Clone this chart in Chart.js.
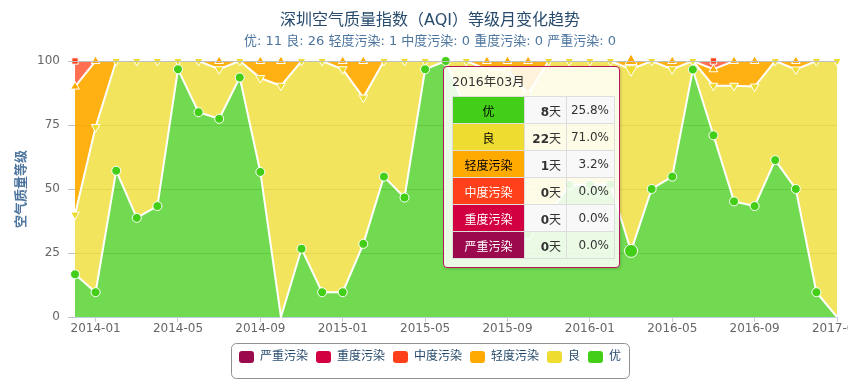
<!DOCTYPE html>
<html>
<head>
<meta charset="utf-8">
<script src="https://cdn.jsdelivr.net/npm/chart.js@4/dist/chart.umd.min.js"></script>
<style>
html,body{margin:0;padding:0;background:#fff;}
#wrap{position:relative;width:848px;height:386px;overflow:hidden;}
#c{display:block;}
#tip{position:absolute;box-sizing:border-box;width:177px;padding:8px;background:rgba(255,255,255,0.85);
  border:1px solid #B8175E;border-radius:4px;box-shadow:1px 1px 3px rgba(0,0,0,0.18);
  font-family:'DejaVu Sans','Noto Sans CJK SC',sans-serif;z-index:5;}
#tip .hd{font-size:12.5px;line-height:13px;color:#333;margin-bottom:8px;white-space:nowrap;}
#tip table{border-collapse:collapse;width:159px;table-layout:fixed;}
#tip td{border:1px solid #ddd;height:26px;padding:0;font-size:12px;color:#333;white-space:nowrap;}
#tip td.lab{text-align:center;}
#tip td.d{text-align:right;padding-right:5px;}
#tip td.p{text-align:right;padding-right:5px;}
#tip tr.odd td.d,#tip tr.odd td.p{background:#f8f8f8;}
</style>
</head>
<body>
<div id="wrap">
<canvas id="c" width="860" height="386"></canvas>
<div id="tip"></div>
</div>
<script>
// ---- data (days per month for each AQI level) ----
const months = ['2013-12','2014-01','2014-02','2014-03','2014-04','2014-05','2014-06','2014-07','2014-08','2014-09','2014-10','2014-11','2014-12',
  '2015-01','2015-02','2015-03','2015-04','2015-05','2015-06','2015-07','2015-08','2015-09','2015-10','2015-11','2015-12',
  '2016-01','2016-02','2016-03','2016-04','2016-05','2016-06','2016-07','2016-08','2016-09','2016-10','2016-11','2016-12','2017-01'];
const excellent = [5,3,16,12,13,30,24,24,29,17,0,8,3,3,8,17,14,30,30,25,19,14,10,12,16,16,15,8,15,17,29,22,14,13,19,15,3,0];
const good      = [7,20,12,19,17,1,6,6,2,11,28,22,28,27,16,14,16,1,0,6,11,15,17,18,15,15,14,22,15,13,1,6,14,14,12,14,28,31];
const light     = [15,8,0,0,0,0,0,1,0,2,3,0,0,1,4,0,0,0,0,0,1,1,4,0,0,0,0,1,0,1,0,2,3,3,0,1,0,0];
const moderate  = [3,0,0,0,0,0,0,0,0,0,0,0,0,0,0,0,0,0,0,0,0,0,0,0,0,0,0,0,0,0,0,1,0,0,0,0,0,0];
const heavy     = [0,0,0,0,0,0,0,0,0,0,0,0,0,0,0,0,0,0,0,0,0,0,0,0,0,0,0,0,0,0,0,0,0,0,0,0,0,0];
const severe    = [0,0,0,0,0,0,0,0,0,0,0,0,0,0,0,0,0,0,0,0,0,0,0,0,0,0,0,0,0,0,0,0,0,0,0,0,0,0];
const seriesNames = ['优','良','轻度污染','中度污染','重度污染','严重污染'];
const tickMonths = ['01','05','09'];
const titleText = '深圳空气质量指数（AQI）等级月变化趋势';
const subtitleText = '优: 11 良: 26 轻度污染: 1 中度污染: 0 重度污染: 0 严重污染: 0';
const HOVER_INDEX = 27;

// ---- styles ----
const seriesDays = [excellent, good, light, moderate, heavy, severe];
const legendColors = ['#43CE17','#EFDC31','#FFAA00','#FF401A','#D20040','#9C0A4E'];
const fillColors = ['rgba(67,206,23,0.75)','rgba(239,220,49,0.78)','rgba(255,170,0,0.92)','rgba(255,64,26,0.75)','rgba(210,0,64,0.75)','rgba(156,10,78,0.75)'];
const labelTextColors = ['#000','#000','#000','#fff','#fff','#fff'];
const pointStyles = ['circle','triangle','triangle','rect','rectRot','circle'];
const pointRot = [0,180,0,0,0,0];
const pointSizes = [4.5,5,5,4.5,4.5,4];
const FONT = "'DejaVu Sans','Noto Sans CJK SC',sans-serif";
Chart.defaults.font.family = FONT;

const totals = months.map((m,i)=>seriesDays.reduce((a,s)=>a+s[i],0));
const isTick = i => tickMonths.includes(months[i].slice(5));

const datasets = seriesNames.map((name,s)=>({
  label:name,
  data: seriesDays[s].map((d,i)=> d/totals[i]*100),
  fill: s===0 ? 'origin' : '-1',
  backgroundColor: fillColors[s],
  borderColor:'#fff',
  borderWidth:2,
  tension:0,
  clip:false,
  pointStyle: pointStyles[s],
  pointRotation: pointRot[s],
  pointBackgroundColor: legendColors[s],
  pointBorderColor:'#fff',
  pointBorderWidth:1,
  pointRadius: ctx => seriesDays[s][ctx.dataIndex] > 0 ? (ctx.dataIndex===HOVER_INDEX ? pointSizes[s]+2 : pointSizes[s]) : 0,
  pointHoverRadius: ctx => seriesDays[s][ctx.dataIndex] > 0 ? pointSizes[s]+2 : 0,
  segment:{ borderColor: ctx => (seriesDays[s][ctx.p0DataIndex]===0 && seriesDays[s][ctx.p1DataIndex]===0) ? 'rgba(0,0,0,0)' : '#fff' }
}));

const extras = {
  id:'extras',
  afterDatasetsDraw(chart){
    const {ctx, chartArea} = chart;
    const y = Math.round(chart.scales.y.getPixelForValue(100)) + 0.5;
    ctx.save();
    ctx.strokeStyle = '#C0C0C0'; ctx.lineWidth = 1;
    ctx.beginPath(); ctx.moveTo(chartArea.left - 7, y); ctx.lineTo(chartArea.right, y); ctx.stroke();
    ctx.restore();
  },
  afterDraw(chart){
    const hb = chart.legend.legendHitBoxes;
    if (!hb || !hb.length) return;
    const left = Math.min(...hb.map(h=>h.left)) - 8;
    const right = Math.max(...hb.map(h=>h.left+h.width)) + 8;
    const top = hb[0].top - 8, bottom = hb[0].top + 27;
    const ctx = chart.ctx;
    ctx.save();
    ctx.strokeStyle = '#909090'; ctx.lineWidth = 1;
    ctx.beginPath();
    ctx.roundRect(Math.round(left)+0.5, Math.round(top)+0.5, Math.round(right-left), Math.round(bottom-top), 5);
    ctx.stroke();
    ctx.restore();
  }
};

const chart = new Chart(document.getElementById('c'), {
  type:'line',
  data:{ labels: months, datasets },
  options:{
    responsive:false, animation:false, devicePixelRatio:1,
    layout:{ padding:{ left:0, right:0, top:0, bottom:13 } },
    interaction:{ mode:'index', intersect:false },
    plugins:{
      title:{ display:true, text:titleText, color:'#274b6d', font:{size:16, weight:'normal'}, padding:{top:11.4, bottom:0} },
      subtitle:{ display:true, text:subtitleText, color:'#4d759e', font:{size:13, weight:'normal'}, padding:{top:3.1, bottom:11.7} },
      legend:{ position:'bottom', reverse:true,
        labels:{ boxWidth:15, boxHeight:12, padding:8, color:'#274b6d', font:{size:12},
          useBorderRadius:true, borderRadius:3,
          generateLabels: (ch) => ch.data.datasets.map((ds,i)=>({
            text: ds.label, fillStyle: legendColors[i], strokeStyle: legendColors[i], lineWidth:0,
            hidden:false, datasetIndex:i, fontColor:'#274b6d', borderRadius:3
          }))
        }
      },
      tooltip:{ enabled:false }
    },
    scales:{
      x:{
        type:'category', offset:false,
        grid:{ drawOnChartArea:false, drawTicks:true, tickLength:5, color: c => isTick(c.index) ? '#C0D0E0' : 'rgba(0,0,0,0)' },
        border:{ color:'#C0D0E0', width:1 },
        ticks:{ autoSkip:false, maxRotation:0, minRotation:0, color:'#666', font:{size:12}, padding:0,
          callback:(v,i)=> isTick(i) ? months[i] : '' },
        afterFit: s => { s.paddingLeft = 0; s.paddingRight = 0; s.height = 26; }
      },
      y:{
        stacked:true, min:0, max:100,
        ticks:{ stepSize:25, color:'#666', font:{size:12}, padding:8 },
        grid:{ color:'#C0C0C0', tickLength:7 },
        border:{ display:false },
        title:{ display:true, text:'空气质量等级', color:'#4d759e', font:{size:13, weight:'bold'}, padding:{top:14, bottom:0} },
        afterFit: s => { s.width = 75; }
      },
      yRight:{
        type:'linear', position:'right', display:true,
        ticks:{ display:false }, grid:{ display:false, drawTicks:false }, border:{ display:false },
        afterFit: s => { s.width = 23; s.paddingTop = 0; s.paddingBottom = 0; }
      }
    }
  },
  plugins:[extras]
});

// ---- hovered-month tooltip (table) ----
(function(){
  const i = HOVER_INDEX;
  const pt = chart.getDatasetMeta(0).data[i];
  const tip = document.getElementById('tip');
  const head = months[i].replace('-', '年') + '月';
  let rows = '';
  seriesNames.forEach((name,s)=>{
    const d = seriesDays[s][i];
    const p = (d/totals[i]*100).toFixed(1) + '%';
    rows += '<tr class="' + (s%2===0 ? 'odd' : 'even') + '">' +
      '<td class="lab" style="width:71px;background:' + legendColors[s] + ';color:' + labelTextColors[s] + '">' + name + '</td>' +
      '<td class="d" style="width:36px"><b>' + d + '</b>天</td>' +
      '<td class="p" style="width:42px">' + p + '</td></tr>';
  });
  tip.innerHTML = '<div class="hd">' + head + '</div><table>' + rows + '</table>';
  tip.style.left = Math.round(pt.x - 188) + 'px';
  tip.style.top = Math.round(chart.chartArea.top + 5) + 'px';
})();
</script>
</body>
</html>
